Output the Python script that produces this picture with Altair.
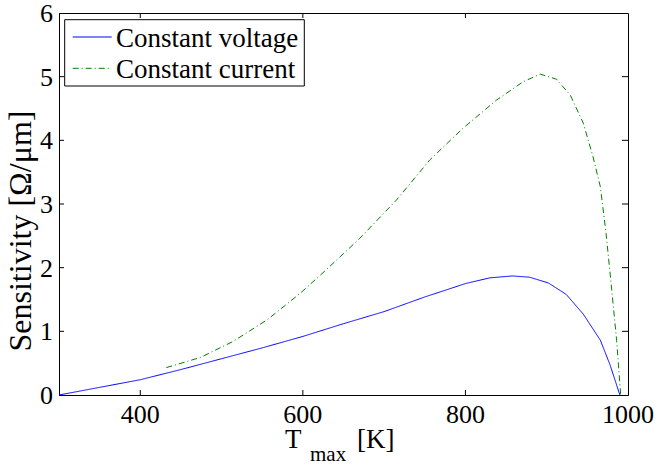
import altair as alt
import pandas as pd

# ---- data ----
t_voltage = [300, 350, 400, 450, 500, 550, 600, 650, 700, 750, 800, 830, 858, 879, 902, 924, 945, 966, 978, 990]
s_voltage = [0.0, 0.12, 0.24, 0.40, 0.57, 0.74, 0.92, 1.12, 1.31, 1.54, 1.75, 1.84, 1.87, 1.85, 1.76, 1.58, 1.27, 0.86, 0.47, 0.0]

t_current = [432, 474, 514, 556, 597, 629, 670, 715, 756, 797, 838, 871, 892, 912, 929, 945, 957, 966, 973, 980, 986, 991]
s_current = [0.43, 0.59, 0.84, 1.18, 1.60, 1.97, 2.46, 3.06, 3.69, 4.19, 4.63, 4.92, 5.04, 4.96, 4.71, 4.27, 3.74, 3.27, 2.54, 1.65, 0.86, 0.0]

series_names = ["Constant voltage", "Constant current"]
series_colors = ["#0000ff", "#008000"]
series_dash = [[1, 0], [6, 3, 1, 3]]

x_ticks = [400, 600, 800, 1000]
y_ticks = [0, 1, 2, 3, 4, 5, 6]
x_inner = [400, 600, 800]
y_inner = [1, 2, 3, 4, 5]

W, H = 569, 382
FONT = "Liberation Serif"

df = pd.concat([
    pd.DataFrame({"T": t_voltage, "S": s_voltage, "series": series_names[0]}),
    pd.DataFrame({"T": t_current, "S": s_current, "series": series_names[1]}),
])

xs = alt.Scale(domain=[300, 1000], nice=False, zero=False)
ys = alt.Scale(domain=[0, 6], nice=False)

xaxis = alt.Axis(values=x_ticks, title=None, labels=False)
yaxis = alt.Axis(values=y_ticks, title=None, labels=False)

lines = alt.Chart(df).mark_line(strokeWidth=1, clip=True).encode(
    x=alt.X("T:Q", scale=xs, axis=xaxis),
    y=alt.Y("S:Q", scale=ys, axis=yaxis),
    color=alt.Color("series:N", scale=alt.Scale(domain=series_names, range=series_colors), legend=None),
    strokeDash=alt.StrokeDash("series:N", scale=alt.Scale(domain=series_names, range=series_dash), legend=None),
)

# tick labels (serif), placed through the same scales
xlab = alt.Chart(pd.DataFrame({"T": x_ticks})).mark_text(
    font=FONT, fontSize=26, align="center", baseline="alphabetic", color="black").encode(
    x=alt.X("T:Q", scale=xs, axis=xaxis), y=alt.value(H + 28), text=alt.Text("T:Q", format="d"))
ylab = alt.Chart(pd.DataFrame({"S": y_ticks})).mark_text(
    font=FONT, fontSize=26, align="right", baseline="alphabetic", dy=9, color="black").encode(
    y=alt.Y("S:Q", scale=ys, axis=yaxis), x=alt.value(-6), text=alt.Text("S:Q", format="d"))

# inward tick marks on all four sides
bx = pd.DataFrame({"T": x_inner})
by = pd.DataFrame({"S": y_inner})
tick_bottom = alt.Chart(bx).mark_rule(color="black", strokeWidth=1).encode(
    x=alt.X("T:Q", scale=xs, axis=xaxis), y=alt.value(H), y2=alt.value(H - 5))
tick_top = alt.Chart(bx).mark_rule(color="black", strokeWidth=1).encode(
    x=alt.X("T:Q", scale=xs, axis=xaxis), y=alt.value(0), y2=alt.value(5))
tick_left = alt.Chart(by).mark_rule(color="black", strokeWidth=1).encode(
    y=alt.Y("S:Q", scale=ys, axis=yaxis), x=alt.value(0), x2=alt.value(5))
tick_right = alt.Chart(by).mark_rule(color="black", strokeWidth=1).encode(
    y=alt.Y("S:Q", scale=ys, axis=yaxis), x=alt.value(W), x2=alt.value(W - 6))

one = pd.DataFrame({"a": [0]})

# legend box
leg_box = alt.Chart(one).mark_rect(fill="white", stroke="black", strokeWidth=1).encode(
    x=alt.value(5.7), x2=alt.value(245.3), y=alt.value(6.7), y2=alt.value(73))
leg_l1 = alt.Chart(one).mark_rule(color=series_colors[0], strokeWidth=1).encode(
    x=alt.value(13.7), x2=alt.value(52.7), y=alt.value(24))
leg_l2 = alt.Chart(one).mark_rule(color=series_colors[1], strokeWidth=1, strokeDash=series_dash[1]).encode(
    x=alt.value(13.7), x2=alt.value(52.7), y=alt.value(55.3))
leg_t1 = alt.Chart(pd.DataFrame({"t": [series_names[0]]})).mark_text(
    font=FONT, fontSize=27, align="left", baseline="alphabetic", color="black").encode(
    text="t:N", x=alt.value(57), y=alt.value(34.3))
leg_t2 = alt.Chart(pd.DataFrame({"t": [series_names[1]]})).mark_text(
    font=FONT, fontSize=27, align="left", baseline="alphabetic", color="black").encode(
    text="t:N", x=alt.value(57), y=alt.value(65.3))

# axis titles
ytitle = alt.Chart(pd.DataFrame({"t": ["Sensitivity [Ω/μm]"]})).mark_text(
    font=FONT, fontSize=32, align="center", baseline="middle", angle=270, color="black").encode(
    text="t:N", x=alt.value(-38), y=alt.value(218))
xt_T = alt.Chart(pd.DataFrame({"t": ["T"]})).mark_text(
    font=FONT, fontSize=27, align="left", baseline="alphabetic", color="black").encode(
    text="t:N", x=alt.value(226), y=alt.value(435))
xt_max = alt.Chart(pd.DataFrame({"t": ["max"]})).mark_text(
    font=FONT, fontSize=21, align="left", baseline="alphabetic", color="black").encode(
    text="t:N", x=alt.value(251), y=alt.value(448))
xt_K = alt.Chart(pd.DataFrame({"t": ["[K]"]})).mark_text(
    font=FONT, fontSize=27, align="left", baseline="alphabetic", color="black").encode(
    text="t:N", x=alt.value(298), y=alt.value(435))

chart = alt.layer(
    lines, xlab, ylab, tick_bottom, tick_top, tick_left, tick_right,
    leg_box, leg_l1, leg_l2, leg_t1, leg_t2,
    ytitle, xt_T, xt_max, xt_K,
).properties(
    width=W, height=H,
    autosize=alt.AutoSizeParams(type="none"),
    padding={"left": 59, "top": 13, "right": 29, "bottom": 70},
    background="white",
).configure_view(
    stroke="black", strokeWidth=1
).configure_axis(
    labels=False, ticks=False, tickSize=0, grid=False, domainColor="black", domainWidth=1,
)

chart.save("out.html", embed_options={"renderer": "svg", "actions": False})
